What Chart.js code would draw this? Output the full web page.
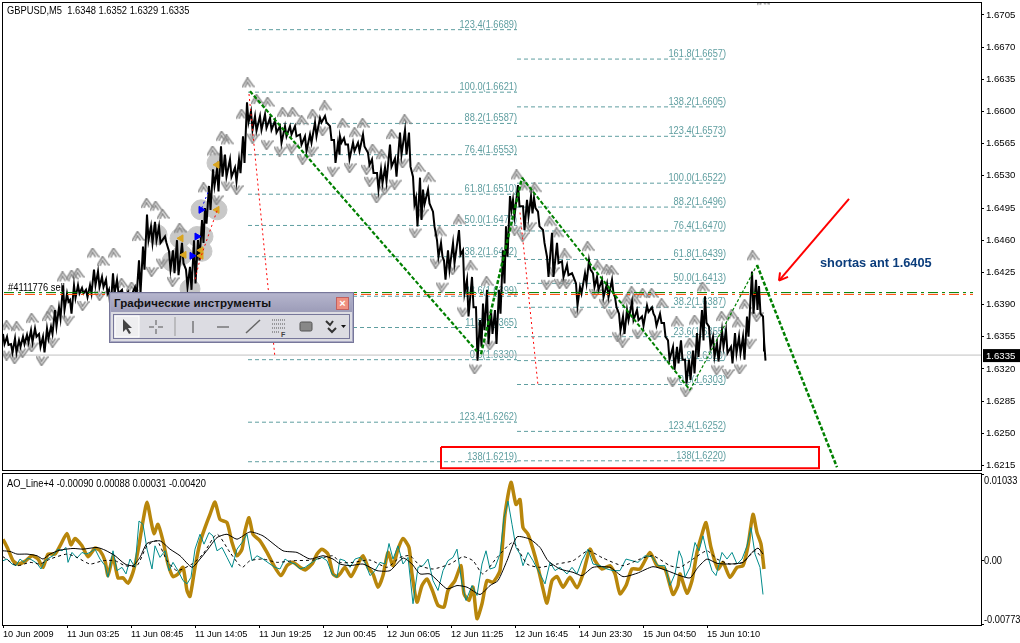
<!DOCTYPE html>
<html>
<head>
<meta charset="utf-8">
<title>GBPUSD,M5</title>
<script src="https://cdn.jsdelivr.net/npm/chart.js@4"></script>
<style>
  html, body { margin: 0; padding: 0; background: #fff; overflow: hidden; }
  canvas { position: absolute; left: 0; display: block; }
  #priceChart { top: 0; }
  #aoChart { top: 472px; }
  #toolbar { position: absolute; left: 109px; top: 292px; width: 243px; height: 49px; background: #dcdce2; border: 1px solid #77779a; box-shadow: inset 0 0 0 1px #a9a9c4; font-family: "Liberation Sans", sans-serif; }
  #toolbarTitle { position: absolute; left: 1px; top: 1px; right: 1px; height: 18px; background: linear-gradient(#b4b4cc, #9c9cb8); color: #111; font-weight: bold; font-size: 11.5px; line-height: 19px; padding-left: 3px; letter-spacing: .1px; }
  #toolbarClose { position: absolute; right: 3px; top: 3px; width: 11px; height: 11px; border: 1px solid #c06060; background: #f09080; color: #fff; font: bold 11px/11px "Liberation Sans", sans-serif; text-align: center; }
  #toolbarBody { position: absolute; left: 3px; top: 21px; right: 3px; bottom: 3px; border: 1px solid #77779a; }
</style>
</head>
<body>
<canvas id="priceChart" width="1020" height="472"></canvas>
<canvas id="aoChart" width="1020" height="171"></canvas>
<div id="toolbar">
  <div id="toolbarTitle">Графические инструменты<div id="toolbarClose">×</div></div>
  <div id="toolbarBody">
    <svg width="235" height="23" style="display:block">
      <rect x="1" y="1" width="24" height="21" fill="#eeeef0" stroke="#fff"/>
      <path d="M9 4 L9 17 L12 14 L15 19 L17 18 L14 13 L18 13 Z" fill="#444"/>
      <path d="M42 5 V10 M42 14 V19 M35 12 H40 M44 12 H49" stroke="#555"/>
      <path d="M61 2 V21" stroke="#999"/>
      <path d="M79 6 V18" stroke="#444"/>
      <path d="M103 12 H115" stroke="#444"/>
      <path d="M132 18 L146 5" stroke="#666" stroke-width="1.5"/>
      <path d="M158 5 H172 M158 9 H172 M158 13 H172 M158 17 H166" stroke="#555" stroke-dasharray="1 1"/>
      <text x="167" y="22" font-size="7" font-weight="bold" fill="#444" font-family="Liberation Sans">F</text>
      <rect x="186" y="7" width="12" height="9" rx="1.5" fill="#888" stroke="#555"/>
      <path d="M212 6 L216 10 L219 6 M214 13 L218 17 L222 13" stroke="#333" stroke-width="2" fill="none"/>
      <path d="M227 10 H232 L229.500 13 Z" fill="#111"/>
    </svg>
  </div>
</div>

<script>
// x values are chart columns (1 column = 1 M5 bar)
const priceBars = [3,7,11,15,19,23,27,31,35,39,43,47,51,55,59,63,67,70,74,78,82,86,90,94,98,102,106,109,113,117,122,128,135,139,143,147,151,155,159,165,169,173,177,182,186,190,194,198,202,205,209,213,217,221,225,230,235,239,243,247,251,255,260,265,270,275,280,285,290,295,300,305,310,315,320,325,330,334,338,340,344,348,353,358,363,368,372,377,381,385,390,395,400,405,409,413,416,420,423,428,433,437,441,444,448,453,459,463,467,472,476,480,483,487,491,495,499,503,506,510,513,518,523,527,531,534,538,543,547,552,557,562,567,572,576,580,585,589,593,597,602,607,612,615,619,623,627,632,637,642,647,652,655,660,664,668,673,677,681,685,689,693,697,702,705,709,713,717,722,726,731,735,739,743,747,752,756,759,763,764];
const priceHigh = [1.6358,1.6355,1.6347,1.6353,1.6351,1.6355,1.6357,1.6362,1.6364,1.6358,1.6355,1.6364,1.6366,1.6384,1.6387,1.6411,1.6402,1.6395,1.6411,1.6411,1.6408,1.6406,1.6411,1.6428,1.6426,1.6420,1.6417,1.6406,1.6424,1.6417,1.6406,1.6404,1.6409,1.6438,1.6453,1.6488,1.6475,1.6480,1.6475,1.6464,1.6448,1.6449,1.6460,1.6457,1.6428,1.6431,1.6460,1.6460,1.6482,1.6495,1.6519,1.6537,1.6537,1.6562,1.6553,1.6548,1.6539,1.6548,1.6573,1.6610,1.6600,1.6595,1.6595,1.6597,1.6593,1.6590,1.6584,1.6584,1.6584,1.6584,1.6575,1.6573,1.6575,1.6588,1.6593,1.6595,1.6584,1.6569,1.6566,1.6573,1.6571,1.6564,1.6566,1.6566,1.6575,1.6555,1.6548,1.6533,1.6537,1.6539,1.6564,1.6549,1.6577,1.6580,1.6577,1.6529,1.6506,1.6528,1.6515,1.6515,1.6491,1.6460,1.6457,1.6438,1.6449,1.6457,1.6471,1.6449,1.6417,1.6420,1.6387,1.6373,1.6391,1.6406,1.6384,1.6384,1.6406,1.6449,1.6475,1.6508,1.6504,1.6520,1.6497,1.6504,1.6508,1.6506,1.6491,1.6471,1.6442,1.6468,1.6457,1.6437,1.6433,1.6424,1.6413,1.6409,1.6424,1.6438,1.6424,1.6420,1.6417,1.6413,1.6417,1.6398,1.6380,1.6377,1.6384,1.6393,1.6384,1.6377,1.6389,1.6387,1.6377,1.6380,1.6370,1.6351,1.6344,1.6344,1.6351,1.6330,1.6330,1.6340,1.6359,1.6384,1.6399,1.6366,1.6355,1.6348,1.6362,1.6362,1.6344,1.6359,1.6355,1.6355,1.6377,1.6426,1.6417,1.6410,1.6377,1.6351];
const priceLow = [1.6347,1.6346,1.6338,1.6338,1.6344,1.6347,1.6349,1.6349,1.6355,1.6344,1.6338,1.6353,1.6358,1.6366,1.6375,1.6384,1.6393,1.6380,1.6397,1.6402,1.6402,1.6398,1.6402,1.6411,1.6409,1.6409,1.6402,1.6384,1.6402,1.6402,1.6396,1.6395,1.6398,1.6402,1.6428,1.6460,1.6457,1.6460,1.6457,1.6457,1.6428,1.6424,1.6422,1.6435,1.6409,1.6406,1.6413,1.6438,1.6457,1.6478,1.6493,1.6519,1.6513,1.6529,1.6529,1.6529,1.6524,1.6533,1.6544,1.6588,1.6580,1.6579,1.6580,1.6582,1.6580,1.6577,1.6566,1.6573,1.6575,1.6573,1.6564,1.6557,1.6566,1.6573,1.6588,1.6588,1.6569,1.6544,1.6553,1.6566,1.6564,1.6548,1.6557,1.6557,1.6562,1.6542,1.6533,1.6515,1.6522,1.6524,1.6540,1.6529,1.6553,1.6553,1.6540,1.6499,1.6475,1.6482,1.6499,1.6500,1.6475,1.6442,1.6442,1.6417,1.6428,1.6435,1.6444,1.6402,1.6377,1.6387,1.6329,1.6344,1.6362,1.6347,1.6358,1.6347,1.6380,1.6413,1.6442,1.6493,1.6486,1.6497,1.6471,1.6486,1.6489,1.6495,1.6475,1.6457,1.6420,1.6420,1.6435,1.6420,1.6422,1.6420,1.6389,1.6402,1.6413,1.6428,1.6409,1.6406,1.6398,1.6398,1.6402,1.6387,1.6362,1.6358,1.6373,1.6373,1.6373,1.6367,1.6382,1.6380,1.6367,1.6370,1.6355,1.6330,1.6319,1.6326,1.6330,1.6304,1.6308,1.6315,1.6333,1.6351,1.6370,1.6344,1.6333,1.6328,1.6344,1.6337,1.6326,1.6337,1.6337,1.6330,1.6355,1.6380,1.6384,1.6380,1.6340,1.6329];

const fractalUpBars = [7,17,32,48,52,63,72,78,93,103,114,122,132,138,147,156,163,180,204,213,222,227,242,248,257,268,283,293,302,313,325,343,355,363,373,382,392,405,419,429,440,459,471,487,517,525,535,550,557,565,588,598,607,612,627,632,635,643,652,662,677,690,695,703,722,732,738,745,753,763];
const fractalUpPrices = [1.6367,1.6366,1.6375,1.6377,1.6384,1.6420,1.6422,1.6424,1.6446,1.6437,1.6446,1.6413,1.6409,1.6464,1.6500,1.6497,1.6488,1.6473,1.6517,1.6557,1.6573,1.6569,1.6597,1.6631,1.6613,1.6610,1.6599,1.6599,1.6590,1.6597,1.6606,1.6587,1.6577,1.6587,1.6559,1.6553,1.6575,1.6591,1.6539,1.6528,1.6469,1.6482,1.6432,1.6415,1.6531,1.6519,1.6517,1.6480,1.6468,1.6445,1.6453,1.6432,1.6428,1.6427,1.6395,1.6404,1.6395,1.6402,1.6402,1.6391,1.6371,1.6348,1.6373,1.6409,1.6377,1.6379,1.6370,1.6390,1.6443,1.6721];
const fractalDownBars = [7,15,23,32,42,53,68,83,100,152,162,173,217,227,237,253,267,280,292,303,312,323,333,350,367,370,377,385,395,403,415,422,436,442,453,463,475,490,515,523,530,547,553,560,567,576,595,605,612,618,623,638,655,673,686,717,728,740,750,757];
const fractalDownPrices = [1.6335,1.6331,1.6338,1.6344,1.6329,1.6349,1.6373,1.6389,1.6400,1.6426,1.6435,1.6415,1.6504,1.6519,1.6515,1.6571,1.6564,1.6557,1.6560,1.6548,1.6557,1.6579,1.6535,1.6539,1.6537,1.6524,1.6506,1.6515,1.6521,1.6544,1.6468,1.6489,1.6435,1.6409,1.6428,1.6382,1.6320,1.6346,1.6471,1.6464,1.6475,1.6412,1.6426,1.6413,1.6413,1.6381,1.6402,1.6391,1.6380,1.6355,1.6349,1.6358,1.6357,1.6306,1.6295,1.6319,1.6315,1.6320,1.6348,1.6377];

const circleBars = [217,201,217,197,202,203,180,157,172,182,190];
const circlePrices = [1.6544,1.6493,1.6493,1.6464,1.6448,1.6464,1.6462,1.6466,1.6437,1.6444,1.6407];
const orangeBars = [217,217,181,201,201,184];
const orangePrices = [1.6542,1.6493,1.6462,1.6449,1.6443,1.6444];
const blueBars = [201,197,192];
const bluePrices = [1.6493,1.6464,1.6443];

const fibLeftLevels = ["123.4","100.0","88.2","76.4","61.8","50.0","38.2","23.6","11.8","0.0","123.4","138"];
const fibLeftPrices = [1.6689,1.6621,1.6587,1.6553,1.6510,1.6476,1.6442,1.6399,1.6365,1.6330,1.6262,1.6219];
const fibRightLevels = ["161.8","138.2","123.4","100.0","88.2","76.4","61.8","50.0","38.2","23.6","11.8","0.0","123.4","138"];
const fibRightPrices = [1.6657,1.6605,1.6573,1.6522,1.6496,1.6470,1.6439,1.6413,1.6387,1.6355,1.6329,1.6303,1.6252,1.6220];

const priceTicks = [1.6705,1.6670,1.6635,1.6600,1.6565,1.6530,1.6495,1.6460,1.6425,1.6390,1.6355,1.6320,1.6285,1.6250,1.6215];
const lastPrice = 1.6335;

const timeBars = [3,67,131,195,259,323,387,451,515,579,643,707];
const timeLabels = ["10 Jun 2009","11 Jun 03:25","11 Jun 08:45","11 Jun 14:05","11 Jun 19:25","12 Jun 00:45","12 Jun 06:05","12 Jun 11:25","12 Jun 16:45","14 Jun 23:30","15 Jun 04:50","15 Jun 10:10"];

// AO panel values, in units of 0.00001
const aoBars = [3,8,13,18,25,32,38,43,48,55,60,67,71,75,82,88,95,100,105,108,113,118,123,128,133,138,143,147,151,154,158,163,168,173,178,183,187,190,195,200,205,210,215,220,227,232,237,242,245,249,253,260,267,273,281,287,293,300,305,312,317,322,328,333,337,340,345,351,357,363,368,373,378,383,388,393,398,403,409,412,417,422,427,433,438,444,448,455,461,464,469,473,477,482,487,493,500,505,511,516,520,523,528,533,538,543,547,552,557,563,570,577,583,590,595,602,610,615,620,626,632,640,650,657,665,673,678,680,687,692,697,702,706,711,718,723,730,737,743,748,753,757,761,764];
const aoGold = [252,132,-8,-48,-16,52,12,-88,72,72,172,320,184,260,172,40,144,112,-8,-188,40,-216,-216,-280,-148,112,472,700,472,320,432,232,-48,-200,-168,-88,-368,-440,-88,212,392,552,700,492,452,212,52,132,352,512,312,232,92,-48,-188,-68,-28,-88,-120,-48,72,132,72,-168,-200,-168,-88,-200,-68,52,-88,-168,-328,-188,92,-68,132,260,152,-168,-508,-308,-228,-388,-548,-568,-368,-248,-68,-408,-488,-328,-708,-528,-248,-268,-128,552,940,672,732,392,312,132,-88,-348,-520,-248,-200,-328,-208,-336,-168,132,-8,-108,-68,-168,-408,-308,-108,-108,92,-68,-108,-416,-308,-168,-400,-248,92,312,452,152,-108,-28,-208,-88,-68,172,552,332,192,-108];
const tealBars = [3,7,12,16,20,24,28,32,37,41,45,49,53,58,62,66,68,72,77,82,86,90,95,100,105,108,113,117,122,126,130,135,139,143,147,152,155,160,165,169,173,178,183,187,191,195,200,204,209,213,217,222,227,232,237,242,247,252,257,263,270,275,280,285,290,295,300,305,312,317,322,327,332,337,340,345,350,355,360,365,370,375,380,385,389,393,398,403,408,413,418,423,428,433,438,443,448,453,457,462,466,472,477,482,486,490,495,500,504,508,512,516,520,523,528,533,540,545,550,555,560,567,572,577,582,588,593,600,607,613,620,626,632,638,645,652,658,665,670,675,679,682,685,690,695,699,703,708,712,716,722,727,732,737,742,747,751,755,760,763];
const aoTeal = [-8,12,-48,-68,12,-28,24,0,-40,-108,-8,24,52,132,112,152,-28,92,24,92,72,92,132,12,-68,-208,112,-128,-88,-168,12,-88,472,432,132,-108,172,32,112,-128,-28,-128,-248,-288,-208,132,312,192,332,292,112,152,32,-88,132,212,312,-8,52,12,-48,-88,-108,12,-28,-48,-108,-88,-28,12,32,-8,-168,-208,12,-8,-88,12,32,-28,-188,-128,-28,-48,200,12,172,-48,32,-528,-88,-68,12,-248,-368,-128,-8,32,132,-288,-488,-308,-428,-48,112,-108,-88,72,512,712,432,152,72,-68,92,-8,-168,-288,-28,-128,-88,-168,-88,-168,-8,132,-48,-68,-108,-128,-128,12,-8,-28,52,40,-68,-68,-308,-168,112,24,-208,-88,212,112,292,32,-128,-188,92,12,92,-48,12,172,392,72,-88,-416];
const signalBars = [3,10,17,27,37,43,50,60,73,83,97,105,115,125,133,140,147,160,170,180,192,200,208,217,227,237,250,263,283,297,310,323,333,340,350,363,377,390,403,412,420,430,447,457,467,480,490,498,507,517,530,540,548,560,573,582,593,610,623,637,653,667,680,690,698,707,717,730,743,752,758,763];
const aoSignal = [112,104,72,72,52,12,72,120,140,132,152,120,52,-48,-68,32,200,232,132,52,-88,12,132,272,312,252,340,292,112,92,12,52,12,-48,-68,-48,-128,-128,24,-48,-168,-168,-348,-308,-328,-416,-308,-248,-8,280,252,152,-8,-108,-148,-188,-88,-88,-200,-160,-80,-128,-188,-216,-88,12,-40,-48,-28,92,144,72];
const dashBars = [3,17,30,40,50,67,77,90,103,115,125,137,147,157,167,177,192,203,217,230,242,250,263,277,293,313,333,340,353,370,387,400,410,420,433,450,463,473,483,497,513,527,540,557,573,588,603,623,640,653,670,680,693,707,717,730,743,755,762];
const aoDash = [40,-68,-28,-48,12,72,32,-48,-8,-8,-68,-68,172,232,-8,-128,-48,72,312,92,-88,-8,12,-28,-8,0,52,-28,-28,0,-88,32,52,-68,-108,-48,40,-8,-168,32,212,-48,-88,-48,-8,112,24,-68,12,52,-68,-88,12,112,12,-48,-28,112,24];

const aoTicks = [0.01033,0,-0.00773];

const FONT = '"Liberation Sans", sans-serif';
const GREEN = "#008000";
const FIB = "#5f9ea0";

const toPoints = (xs, ys) => xs.map((x, i) => ({ x: x, y: ys[i] }));
const segment = (x1, y1, x2, y2) => [{ x: x1, y: y1 }, { x: x2, y: y2 }];

// high and low of each bar joined in one jagged line
const pricePath = priceBars.flatMap((bar, i) => [
  { x: bar, y: priceHigh[i] },
  { x: bar + 1.5, y: priceLow[i] },
]);

const lineSet = (data, color, width, dash, smooth) => ({
  data: data,
  showLine: true,
  borderColor: color,
  borderWidth: width,
  borderDash: dash || [],
  pointRadius: 0,
  tension: smooth || 0,
});

const markSet = (data, style, radius, color, rotation) => ({
  data: data,
  showLine: false,
  pointStyle: style,
  pointRadius: radius,
  pointBackgroundColor: color,
  pointBorderColor: color,
  pointRotation: rotation || 0,
});

const tent = (up) => {
  const c = document.createElement("canvas");
  c.width = 13;
  c.height = 11;
  const g = c.getContext("2d");
  if (!up) {
    g.translate(0, 11);
    g.scale(1, -1);
  }
  g.strokeStyle = "#8a8a8a";
  g.lineWidth = 1.5;
  g.beginPath();
  g.moveTo(0.5, 10);
  g.lineTo(6, 0.5);
  g.lineTo(12.500, 9.500);
  g.moveTo(3.500, 10);
  g.lineTo(6, 4.500);
  g.lineTo(9, 9.500);
  g.stroke();
  return c;
};

// first dataset ends up on top
const priceSets = [
  lineSet(segment(849, 1.6505, 779, 1.6416), "#ff0000", 2),
  lineSet(segment(779, 1.6416, 780, 1.6425), "#ff0000", 2),
  lineSet(segment(779, 1.6416, 788, 1.6420), "#ff0000", 2),
  lineSet([{ x: 441, y: 1.6235 }, { x: 819, y: 1.6235 }, { x: 819, y: 1.6212 }, { x: 441, y: 1.6212 }, { x: 441, y: 1.6235 }], "#ff0000", 2),
  lineSet(segment(250, 1.6622, 477, 1.6339), GREEN, 2.2, [4, 2]),
  lineSet(segment(481, 1.6336, 522, 1.6528), GREEN, 2.5, [4, 2]),
  lineSet(segment(522, 1.6528, 690, 1.6297), GREEN, 2, [4, 2]),
  lineSet(segment(690, 1.6297, 757, 1.6433), GREEN, 1.2, [3, 2]),
  lineSet(segment(757, 1.6433, 837, 1.6213), GREEN, 2.5, [4, 2]),
  lineSet(segment(249, 1.6619, 275, 1.6332), "#ff0000", 1, [2, 3]),
  lineSet(segment(520, 1.6490, 538, 1.6302), "#ff0000", 1, [2, 3]),
  lineSet([{ x: 217, y: 1.6492 }, { x: 200, y: 1.6439 }, { x: 195, y: 1.6417 }], "#ff0000", 1, [2, 3]),
  lineSet(segment(208, 1.6512, 201, 1.6493), "#0000ff", 1, [2, 3]),
  lineSet(segment(4, 1.6403, 973, 1.6403), GREEN, 1, [10, 4, 3, 4]),
  lineSet(segment(4, 1.6401, 973, 1.6401), "#ff4500", 1, [10, 4, 3, 4]),
  markSet(toPoints(orangeBars, orangePrices), "triangle", 4, "#daa520", -90),
  markSet(toPoints(blueBars, bluePrices), "triangle", 4, "#0000ff", 90),
  lineSet(pricePath, "#000000", 2),
  markSet(toPoints(fractalUpBars, fractalUpPrices), tent(true), 6),
  markSet(toPoints(fractalDownBars, fractalDownPrices), tent(false), 6),
  markSet(toPoints(circleBars, circlePrices), "circle", 10, "#c8c8c8"),
  lineSet(segment(3, lastPrice, 981, lastPrice), "#c0c0c0", 1),
];
fibLeftPrices.forEach((p) => priceSets.push(lineSet(segment(248, p, 517, p), FIB, 1, [4, 3])));
fibRightPrices.forEach((p) => priceSets.push(lineSet(segment(517, p, 726, p), FIB, 1, [4, 3])));

const aoSets = [
  lineSet(toPoints(signalBars, aoSignal.map((v) => v / 100000)), "#000000", 1, [], 0.2),
  lineSet(toPoints(dashBars, aoDash.map((v) => v / 100000)), "#000000", 1, [3, 3], 0.2),
  lineSet(toPoints(tealBars, aoTeal.map((v) => v / 100000)), "#008b8b", 1),
  lineSet(toPoints(aoBars, aoGold.map((v) => v / 100000)), "#b8860b", 3.5, [], 0.2),
];

// narrow = horizontal squeeze, the reference font is tall and narrow
const putText = (g, text, x, y, font, color, align, narrow) => {
  g.save();
  g.translate(x, y);
  g.scale(narrow || 1, 1);
  g.font = font;
  g.fillStyle = color;
  g.textAlign = align || "left";
  g.textBaseline = "alphabetic";
  g.fillText(text, 0, 0);
  g.restore();
};

const frame = {
  id: "frame",
  afterDraw: (chart) => {
    const g = chart.ctx;
    const a = chart.chartArea;
    g.save();
    g.strokeStyle = "#000";
    g.lineWidth = 1;
    g.strokeRect(a.left - 0.5, a.top - 0.5, a.right - a.left + 1, a.bottom - a.top + 1);
    g.restore();
  },
};

const fibText = {
  id: "fibText",
  beforeDatasetsDraw: (chart) => {
    const g = chart.ctx;
    const y = chart.scales.y;
    const small = "11px " + FONT;
    fibLeftPrices.forEach((p, i) => {
      putText(g, fibLeftLevels[i] + "(" + p.toFixed(4) + ")", 517, y.getPixelForValue(p) - 2, small, FIB, "right", 0.84);
    });
    fibRightPrices.forEach((p, i) => {
      putText(g, fibRightLevels[i] + "(" + p.toFixed(4) + ")", 726, y.getPixelForValue(p) - 2, small, FIB, "right", 0.84);
    });
  },
  afterDraw: (chart) => {
    const g = chart.ctx;
    const y = chart.scales.y.getPixelForValue(lastPrice);
    g.fillStyle = "#000";
    g.fillRect(983, y - 6, 37, 13);
    putText(g, lastPrice.toFixed(4), 986, y + 4, "9.6px " + FONT, "#fff");
    putText(g, "GBPUSD,M5  1.6348 1.6352 1.6329 1.6335", 7, 14, "11px " + FONT, "#000", "left", 0.85);
    putText(g, "#4111776 sell", 8, 291, "11px " + FONT, "#000", "left", 0.85);
    putText(g, "shortas ant 1.6405", 820, 267, "bold 12.8px " + FONT, "#0b3d7c");
  },
};

// the top and bottom AO labels sit inside the panel, not centred on their ticks
const aoText = {
  id: "aoText",
  afterDraw: (chart) => {
    const g = chart.ctx;
    const y = chart.scales.y;
    aoTicks.forEach((v, i) => {
      const shift = [9, 4, -1][i];
      putText(g, v === 0 ? "0.00" : v.toFixed(5), 984, y.getPixelForValue(v) + shift, "11px " + FONT, "#000", "left", 0.84);
    });
    putText(g, "AO_Line+4 -0.00090 0.00088 0.00031 -0.00420", 7, 15, "11px " + FONT, "#000", "left", 0.85);
  },
};

const xAxis = (showLabels) => ({
  type: "linear",
  min: 3,
  max: 981,
  display: showLabels,
  afterBuildTicks: (scale) => {
    scale.ticks = timeBars.map((v) => ({ value: v }));
  },
  afterFit: (scale) => {
    scale.height = showLabels ? 18 : 0;
    scale.paddingLeft = 0;
    scale.paddingRight = 0;
  },
  border: { display: false },
  grid: { drawOnChartArea: false, tickLength: 3, color: "#000" },
  ticks: {
    autoSkip: false,
    maxRotation: 0,
    align: "start",
    padding: 1,
    color: "#000",
    font: { family: "Liberation Sans", size: 9.2 },
    callback: (v) => timeLabels[timeBars.indexOf(v)],
  },
});

const yAxis = (min, max, values, showLabels) => ({
  type: "linear",
  position: "right",
  min: min,
  max: max,
  afterBuildTicks: (scale) => {
    scale.ticks = values.map((v) => ({ value: v }));
  },
  afterFit: (scale) => {
    scale.width = 39;
    scale.paddingTop = 0;
    scale.paddingBottom = 0;
  },
  border: { display: false },
  grid: { drawOnChartArea: false, tickLength: 3, color: "#000" },
  ticks: {
    display: showLabels,
    autoSkip: false,
    padding: 2,
    color: "#000",
    font: { family: "Liberation Sans", size: 9.6 },
    callback: (v) => v.toFixed(4),
  },
});

const baseOptions = (padding, scales) => ({
  responsive: false,
  animation: false,
  devicePixelRatio: 1,
  layout: { padding: padding, autoPadding: false },
  plugins: { legend: { display: false }, tooltip: { enabled: false } },
  scales: scales,
});

Chart.defaults.font.family = "Liberation Sans";

new Chart(document.getElementById("priceChart"), {
  type: "scatter",
  data: { datasets: priceSets },
  options: baseOptions({ left: 3, top: 3, bottom: 2, right: 0 }, {
    x: xAxis(false),
    y: yAxis(1.6210, 1.6718, priceTicks, true),
  }),
  plugins: [frame, fibText],
});

new Chart(document.getElementById("aoChart"), {
  type: "scatter",
  data: { datasets: aoSets },
  options: baseOptions({ left: 3, top: 2, bottom: 0, right: 0 }, {
    x: xAxis(true),
    y: yAxis(-0.00785, 0.0104, aoTicks, false),
  }),
  plugins: [frame, aoText],
});
</script>
</body>
</html>
